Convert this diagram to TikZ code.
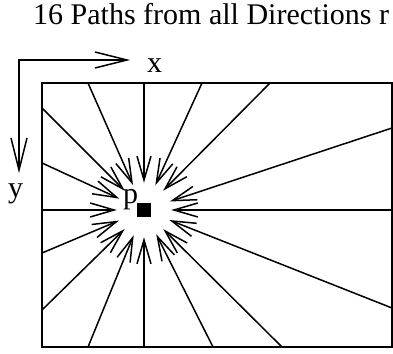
\documentclass[tikz,border=0pt]{standalone}
\usepackage{fontspec}
\setmainfont{Liberation Serif}
\usetikzlibrary{arrows.meta}
\begin{document}
\begin{tikzpicture}[x=1pt,y=-1pt,
  bigfont/.style={font=\fontsize{30}{36}\selectfont},
  lbl/.style={bigfont, anchor=base west, inner sep=0pt},
  frame/.style={line width=1.6pt},
  ray/.style={line width=1.5pt, -{Straight Barb[length=24pt,width=14pt,line width=1.5pt]}},
  axisline/.style={line width=1.5pt, {Straight Barb[length=32pt,width=16pt,line width=1.5pt]}-{Straight Barb[length=32pt,width=16pt,line width=1.5pt]}}]
\useasboundingbox (0,0) rectangle (393,353);
% title
\node[lbl] (title) at (33,25) {16 Paths from all Directions r};
% axes
\coordinate (o) at (19,60);
\coordinate (ax) at (130,60);
\coordinate (ay) at (19,173);
\draw[axisline] (ax) -- (o) -- (ay);
\node[lbl] (xl) at (147,72) {x};
\node[lbl] (yl) at (8,197) {y};
% frame
\draw[frame] (42,83) rectangle (392,347);
% pixel p
\node[fill=black, minimum size=14pt, inner sep=0pt] (p) at (144,210) {};
\node[circle, minimum size=54pt, inner sep=0pt] (hub) at (144,210) {};
\node[lbl] (pl) at (123,203) {p};
% boundary points
\coordinate (t1) at (88,83);
\coordinate (t2) at (144,83);
\coordinate (t3) at (202,83);
\coordinate (t4) at (270,83);
\coordinate (l1) at (42,108);
\coordinate (l2) at (42,163);
\coordinate (l3) at (42,210);
\coordinate (l4) at (42,253);
\coordinate (l5) at (42,310);
\coordinate (b1) at (88,347);
\coordinate (b2) at (144,347);
\coordinate (b3) at (213,347);
\coordinate (b4) at (282,347);
\coordinate (r1) at (392,128);
\coordinate (r2) at (392,210);
\coordinate (r3) at (392,308);
\foreach \q in {t1,t2,t3,t4,l1,l2,l3,l4,l5,b1,b2,b3,b4,r1,r2,r3}
  \draw[ray] (\q) -- (hub);
\end{tikzpicture}
\end{document}
